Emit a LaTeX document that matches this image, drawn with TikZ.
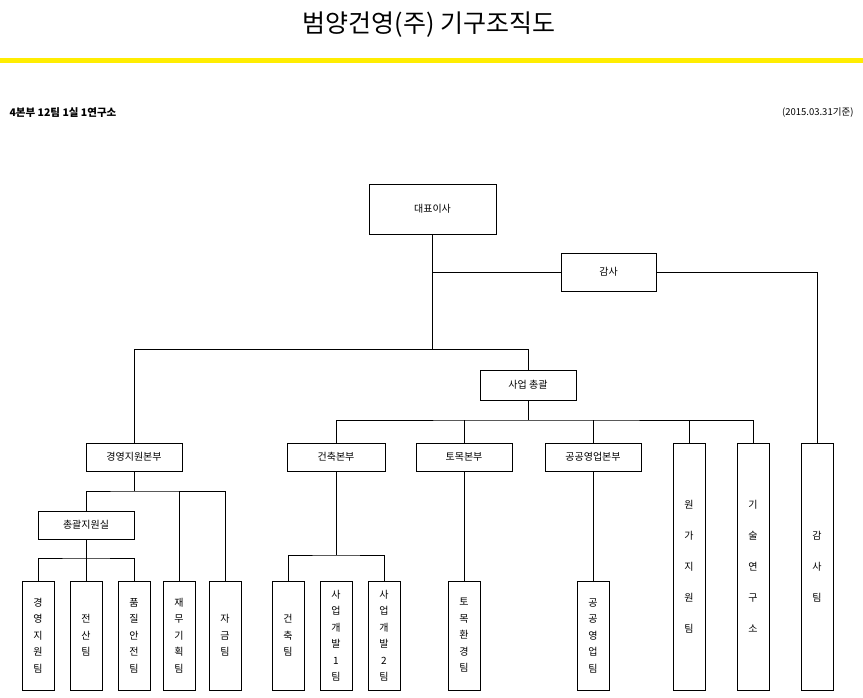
\documentclass[tikz,border=0pt]{standalone}
\usepackage{fontspec}
\setmainfont{Noto Sans CJK KR}
\begin{document}
\begin{tikzpicture}[x=1pt,y=-1pt,
  bx/.style={draw,line width=0.8pt,inner sep=0pt,font=\fontsize{10}{12}\selectfont},
  vb/.style={bx,align=center,font=\fontsize{10}{16.5}\selectfont},
  vl/.style={bx,align=center,font=\fontsize{10}{31}\selectfont},
  ln/.style={line width=0.8pt}]
\useasboundingbox (0,0) rectangle (863,698);
\node (title) at (429,25) {\fontsize{25}{28}\selectfont 범양건영(주) 기구조직도};
\fill[yellow!95!orange] (0,58) rectangle (863,63);
\node[anchor=west,font=\fontsize{10.5}{12}\selectfont\bfseries] (info) at (6,113) {4본부 12팀 1실 1연구소};
\node[anchor=east,font=\fontsize{9.5}{11}\selectfont] (date) at (857,113) {(2015.03.31기준)};
\newcommand{\bxat}[6]{\node[#1,minimum width=#4-#2,minimum height=#5-#3] (#6) at ({(#2+#4)/2},{(#3+#5)/2})}
\bxat{bx}{369}{184}{496}{234}{ceo} {대표이사};
\bxat{bx}{561}{253}{656}{291}{audit} {감사};
\bxat{bx}{480}{370}{576}{400}{biz} {사업 총괄};
\bxat{bx}{86}{443}{182}{471}{mgmt} {경영지원본부};
\bxat{bx}{287}{443}{385}{471}{arch} {건축본부};
\bxat{bx}{416}{443}{512}{471}{civil} {토목본부};
\bxat{bx}{545}{443}{641}{471}{pub} {공공영업본부};
\bxat{vl}{673}{443}{705}{690}{cost} {원\\가\\지\\원\\팀};
\bxat{vl}{737}{443}{769}{690}{lab} {기\\술\\연\\구\\소};
\bxat{vl}{801}{443}{833}{690}{audt} {감\\사\\팀};
\bxat{bx}{38}{511}{134}{539}{gen} {총괄지원실};
\bxat{vb}{22}{581}{54}{690}{t1} {경\\영\\지\\원\\팀};
\bxat{vb}{70}{581}{102}{690}{t2} {전\\산\\팀};
\bxat{vb}{118}{581}{150}{690}{t3} {품\\질\\안\\전\\팀};
\bxat{vb}{163}{581}{195}{690}{t4} {재\\무\\기\\획\\팀};
\bxat{vb}{209}{581}{241}{690}{t5} {자\\금\\팀};
\bxat{vb}{272}{581}{304}{690}{t6} {건\\축\\팀};
\bxat{vb}{320}{581}{352}{690}{t7} {사\\업\\개\\발\\1\\팀};
\bxat{vb}{368}{581}{400}{690}{t8} {사\\업\\개\\발\\2\\팀};
\bxat{vb}{448}{581}{480}{690}{t9} {토\\목\\환\\경\\팀};
\bxat{vb}{577}{581}{609}{690}{t10} {공\\공\\영\\업\\팀};
% connectors
\coordinate (j1) at (ceo.south |- 0,349);
\draw[ln] (ceo.south) -- (j1);
\draw[ln] (ceo.south |- audit.west) -- (audit.west);
\draw[ln] (audit.east) -| (audt.north);
\draw[ln] (j1) -| (mgmt.north);
\draw[ln] (j1) -| (biz.north);
\coordinate (j2) at (biz.south |- 0,420);
\draw[ln] (biz.south) -- (j2);
\draw[ln] (arch.north) |- (j2) -| (lab.north);
\foreach \n in {civil,pub,cost} \draw[ln] (\n.north) -- (\n.north |- j2);
\coordinate (j3) at (mgmt.south |- 0,491);
\draw[ln] (mgmt.south) -- (j3);
\draw[ln] (gen.north) |- (j3) -| (t5.north);
\draw[ln] (t4.north) -- (t4.north |- j3);
\coordinate (j4) at (gen.south |- 0,558);
\draw[ln] (gen.south) -- (j4);
\draw[ln] (t1.north) |- (j4) -| (t3.north);
\draw[ln] (t2.north) -- (t2.north |- j4);
\coordinate (j5) at (arch.south |- 0,555);
\draw[ln] (arch.south) -- (j5);
\draw[ln] (t6.north) |- (j5) -| (t8.north);
\draw[ln] (civil.south) -- (t9.north);
\draw[ln] (pub.south) -- (t10.north);
\end{tikzpicture}
\end{document}
